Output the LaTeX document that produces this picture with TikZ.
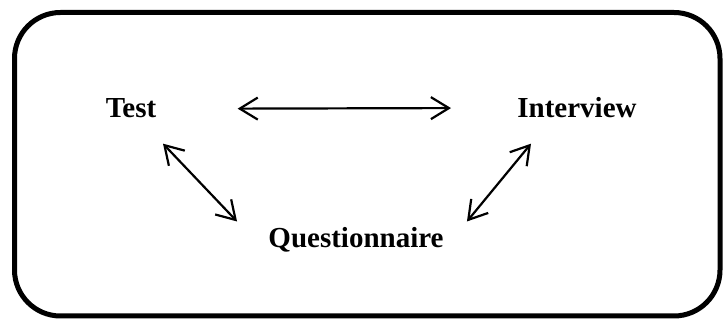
\documentclass[tikz,border=0pt]{standalone}
\usepackage{fontspec}
\setmainfont{Liberation Serif}
\usetikzlibrary{arrows.meta}
\tikzset{methodlbl/.style={inner sep=0pt,anchor=base,font=\fontsize{14.5}{17}\selectfont\bfseries},
         biarrow/.style={line width=1.1pt,{Straight Barb[length=9pt,width=11pt]}-{Straight Barb[length=9pt,width=11pt]}}}

\begin{document}
\begin{tikzpicture}[x=0.5pt,y=0.5pt]
  \useasboundingbox (0,0) rectangle (723,320);
  \draw[line width=2.5pt,rounded corners=23pt] (14.5,307.5) rectangle (720,4);

  \node[methodlbl] (test)      at (131,202) {Test};
  \node[methodlbl] (interview) at (577,202) {Interview};
  \node[methodlbl] (quest)     at (356,72)  {Questionnaire};

  \draw[biarrow] ([shift={(81,0)}]test.east) -- ([shift={(-66,0)}]interview.west);
  \draw[biarrow] ([shift={(32,-25)}]test.south) -- ([shift={(-31,6)}]quest.north west);
  \draw[biarrow] ([shift={(-46,-25)}]interview.south) -- ([shift={(23,6)}]quest.north east);
\end{tikzpicture}
\end{document}
